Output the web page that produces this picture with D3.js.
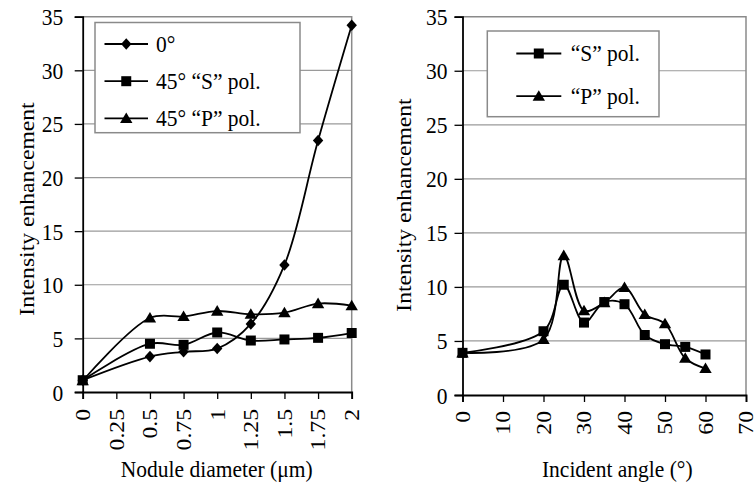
<!DOCTYPE html>
<html>
<head>
<meta charset="utf-8">
<script src="https://cdn.jsdelivr.net/npm/d3@7"></script>
<style>
  html, body { margin: 0; padding: 0; background: #fff; }
  svg { display: block; }
</style>
</head>
<body>
<svg id="chart" width="756" height="486"></svg>
<script>
// ---- data ----
const diameters = [0, 0.5, 0.75, 1, 1.25, 1.5, 1.75, 2];
const normal0 = [1.1, 3.3, 3.75, 4.05, 6.35, 11.85, 23.45, 34.2];
const oblique45S = [1.1, 4.5, 4.4, 5.55, 4.8, 4.9, 5.05, 5.5];
const oblique45P = [1.05, 6.9, 7.05, 7.55, 7.25, 7.4, 8.25, 8.05];
const diameterTicks = ["0", "0.25", "0.5", "0.75", "1", "1.25", "1.5", "1.75", "2"];

const angles = [0, 20, 25, 30, 35, 40, 45, 50, 55, 60];
const sPol = [3.9, 5.9, 10.2, 6.7, 8.6, 8.4, 5.55, 4.7, 4.45, 3.75];
const pPol = [3.9, 5.15, 12.9, 7.8, 8.55, 9.95, 7.45, 6.6, 3.4, 2.45];
const angleTicks = ["0", "10", "20", "30", "40", "50", "60", "70"];

const enhancementTicks = [0, 5, 10, 15, 20, 25, 30, 35];

const leftLegend = ["0°", "45° “S” pol.", "45° “P” pol."];
const rightLegend = ["“S” pol.", "“P” pol."];

// ---- drawing ----
const svg = d3.select("#chart");
const FONT = "'Liberation Serif', 'Times New Roman', Times, 'DejaVu Serif', serif";
const FS = 21.5;      // font size
const SY = 1.1;       // glyphs are slightly taller than wide

// text helper: rot = 0 (horizontal) or -90 (reads upward); taller glyphs either way
function label(g, x, y, str, opts = {}) {
  const rot = opts.rot || 0;
  const tf = rot === 0
    ? `translate(${x},${y}) scale(1,${SY})`
    : `translate(${x},${y}) rotate(${rot}) scale(${SY},1)`;
  return g.append("text")
    .attr("transform", tf)
    .attr("text-anchor", opts.anchor || "start")
    .attr("dy", opts.dy || 0)
    .attr("font-family", FONT)
    .attr("font-size", opts.size || FS)
    .attr("fill", "#000")
    .style("font-family", FONT)
    .text(str);
}

const markerPaths = {
  diamond: "M0,-5.8L5.2,0L0,5.8L-5.2,0Z",
  square: "M-5,-5H5V5H-5Z",
  triangle: "M0,-6L6.2,4.6H-6.2Z"
};

function panel(cfg) {
  const g = svg.append("g");
  const x = d3.scaleLinear().domain(cfg.xDomain).range([cfg.left, cfg.right]);
  const y = d3.scaleLinear().domain([0, 35]).range([cfg.bottom, cfg.top]);

  // gridlines
  g.append("g").selectAll("line")
    .data(enhancementTicks.filter(v => v > 0 && v < 35))
    .join("line")
    .attr("x1", cfg.left).attr("x2", cfg.right)
    .attr("y1", d => y(d)).attr("y2", d => y(d))
    .attr("stroke", "#9a9a9a").attr("stroke-width", 1.2);

  // top and right frame (gray)
  g.append("path")
    .attr("d", `M${cfg.left},${cfg.top}H${cfg.right}V${cfg.bottom}`)
    .attr("fill", "none").attr("stroke", "#8a8a8a").attr("stroke-width", 1.5);

  // y axis
  const yAxis = d3.axisLeft(y).tickValues(enhancementTicks).tickSize(8).tickFormat("");
  const ya = g.append("g").attr("transform", `translate(${cfg.left},0)`).call(yAxis);
  ya.select(".domain").attr("stroke", "#000").attr("stroke-width", 1.8);
  ya.selectAll(".tick line").attr("stroke", "#000").attr("stroke-width", 1.3);
  enhancementTicks.forEach(v => {
    label(g, cfg.left - cfg.yLabelGap, y(v), String(v), { anchor: "end", dy: "0.36em" });
  });

  // x axis
  const tickVals = cfg.xTicks.map(Number);
  const xAxis = d3.axisBottom(x).tickValues(tickVals).tickSize(7).tickFormat("");
  const xa = g.append("g").attr("transform", `translate(0,${cfg.bottom})`).call(xAxis);
  xa.select(".domain").attr("stroke", "#000").attr("stroke-width", 1.8);
  xa.selectAll(".tick line").attr("stroke", "#000").attr("stroke-width", 1.3);
  cfg.xTicks.forEach(t => {
    label(g, x(Number(t)), cfg.xLabelTop, t, { rot: -90, anchor: "end", dy: "0.34em" });
  });

  // axis titles
  label(g, (cfg.left + cfg.right) / 2 + cfg.titleShift, 477, cfg.xTitle, { anchor: "middle" });
  label(g, cfg.yTitleX, cfg.yTitleY, "Intensity enhancement", { rot: -90, anchor: "middle" });

  // series
  const line = d3.line().curve(d3.curveCatmullRom.alpha(0.5))
    .x(d => x(d[0])).y(d => y(d[1]));
  cfg.series.forEach(s => {
    const pts = cfg.xs.map((xv, i) => [xv, s.values[i]]);
    g.append("path").attr("d", line(pts))
      .attr("fill", "none").attr("stroke", "#000").attr("stroke-width", 1.8);
  });
  cfg.series.forEach(s => {
    const pts = cfg.xs.map((xv, i) => [xv, s.values[i]]);
    g.append("g").selectAll("path").data(pts).join("path")
      .attr("d", markerPaths[s.marker])
      .attr("transform", d => `translate(${x(d[0])},${y(d[1])})`)
      .attr("fill", "#000");
  });

  // legend
  const L = cfg.legend;
  const lg = g.append("g");
  lg.append("rect")
    .attr("x", L.x0).attr("y", L.y0)
    .attr("width", L.x1 - L.x0).attr("height", L.y1 - L.y0)
    .attr("fill", "#fff").attr("stroke", "#8a8a8a").attr("stroke-width", 1.5);
  cfg.series.forEach((s, i) => {
    const ly = L.firstY + i * L.step;
    lg.append("line").attr("x1", L.lineX0).attr("x2", L.lineX1)
      .attr("y1", ly).attr("y2", ly)
      .attr("stroke", "#000").attr("stroke-width", 1.8);
    lg.append("path").attr("d", markerPaths[s.marker])
      .attr("transform", `translate(${(L.lineX0 + L.lineX1) / 2},${ly})`)
      .attr("fill", "#000");
    label(lg, L.textX, ly, L.names[i], { dy: "0.33em" });
  });
}

panel({
  xDomain: [0, 2], left: 82.7, right: 351.7, top: 16.7, bottom: 392,
  xs: diameters, xTicks: diameterTicks, xLabelTop: 409, yLabelGap: 19.5,
  xTitle: "Nodule diameter (μm)", titleShift: -0.5,
  yTitleX: 33.5, yTitleY: 209,
  series: [
    { values: normal0, marker: "diamond" },
    { values: oblique45S, marker: "square" },
    { values: oblique45P, marker: "triangle" }
  ],
  legend: { x0: 95, y0: 22.5, x1: 300, y1: 132.7, firstY: 44, step: 37.2,
            lineX0: 104.5, lineX1: 148, textX: 156, names: leftLegend }
});

panel({
  xDomain: [0, 70], left: 462.5, right: 746, top: 16.7, bottom: 395,
  xs: angles, xTicks: angleTicks, xLabelTop: 411, yLabelGap: 15,
  xTitle: "Incident angle (°)", titleShift: 13,
  yTitleX: 411.3, yTitleY: 205,
  series: [
    { values: sPol, marker: "square" },
    { values: pPol, marker: "triangle" }
  ],
  legend: { x0: 487.3, y0: 31, x1: 659, y1: 116.7, firstY: 53.5, step: 42.7,
            lineX0: 516.3, lineX1: 561.3, textX: 570.7, names: rightLegend }
});
</script>
</body>
</html>
